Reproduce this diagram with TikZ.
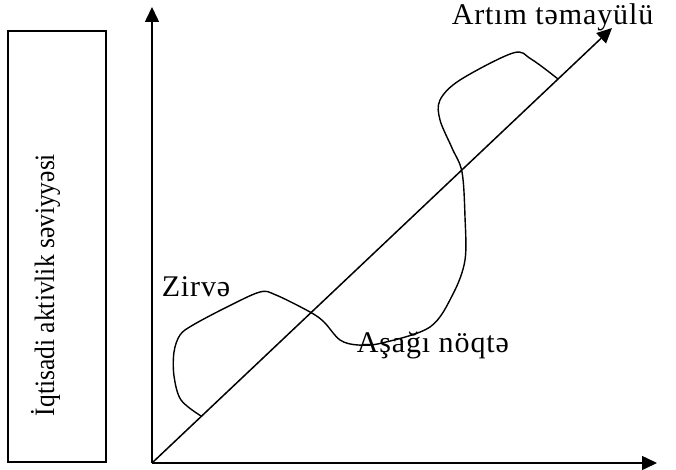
\documentclass[tikz,border=0pt]{standalone}
\usepackage{graphicx}
\usepackage{fontspec}
\setmainfont{Liberation Serif}
\newfontfamily\spacedfont[LetterSpace=3]{Liberation Serif}
\usetikzlibrary{arrows.meta, positioning}
\definecolor{cink}{HTML}{000000}
\newcommand\tallcaption[1]{\scalebox{1}[1.1]{#1}}
\tikzset{
  every picture/.style={line width=1.5pt},
  axis/.style={-{Triangle[length=15pt, width=14pt]}, draw=cink},
  cycle/.style={draw=cink, line width=1.4pt, smooth, tension=0.55},
  lbl/.style={font=\spacedfont\fontsize{30}{34}\selectfont, text=cink, inner sep=0pt},
  caption/.style={font=\fontsize{25.5}{29}\selectfont, text=cink, inner sep=0pt},
  framebox/.style={draw=cink, line width=1.4pt, minimum width=98pt, minimum height=431pt, inner sep=0pt},
}

\begin{document}
\begin{tikzpicture}[x=1pt, y=-1pt]
  \useasboundingbox (0,0) rectangle (676,470);
  % left box with the rotated caption
  \node[framebox] (frame) at (57,246.5) {};
  \node[caption, rotate=90, anchor=base] (level) at (54,285) {\tallcaption{İqtisadi aktivlik səviyyəsi}};
  % axes and trend
  \coordinate (O) at (152,463);
  \coordinate (ytop) at (152,7);
  \coordinate (xend) at (657,463);
  \coordinate (trend) at (612,28);
  \draw[axis] (O) -- (ytop);
  \draw[axis] (O) -- (xend);
  \draw[axis] (O) -- (trend);
  % business cycle around the trend
  \draw[cycle] plot coordinates {(201,416) (181,400) (174,376) (174,352) (180,335) (193,325)
    (227,307) (260,292) (276,295) (310,312) (324,322) (340,340) (358,345) (382,343)
    (430,327) (453,294) (465,260) (465,217) (462,172) (452,148) (440,120) (440,100)
    (460,80) (513,53) (531,59) (558,79)};
  % labels
  \node[lbl, anchor=base west] (peak) at (161,296) {Zirvə};
  \node[lbl, anchor=base west] (trough) at (356,352) {Aşağı nöqtə};
  \node[lbl, anchor=base west] (growth) at (451,25) {Artım təmayülü};
\end{tikzpicture}
\end{document}
